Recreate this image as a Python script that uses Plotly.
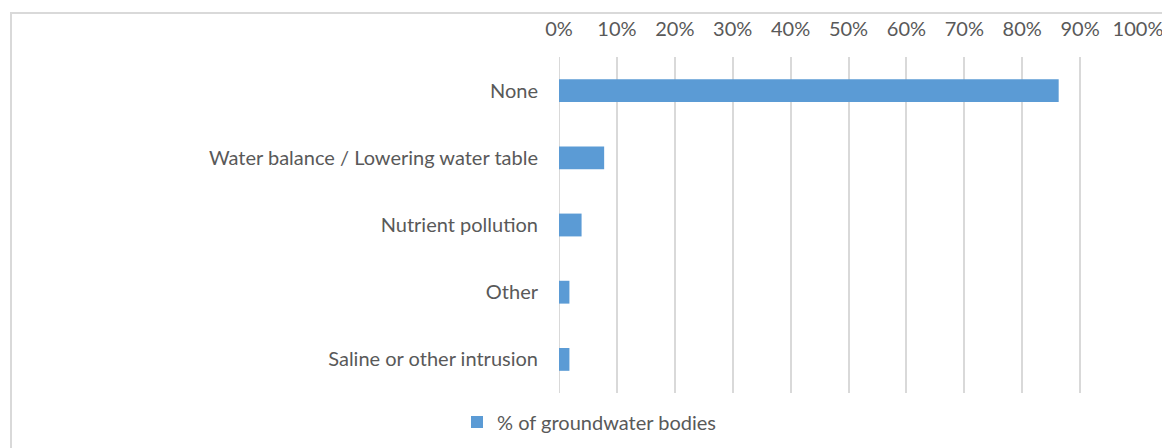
import plotly.graph_objects as go

categories = ["None", "Water balance / Lowering water table", "Nutrient pollution", "Other", "Saline or other intrusion"]
values = [0.863, 0.078, 0.039, 0.018, 0.018]
series_name = "% of groundwater bodies"
tick_vals = [i / 10 for i in range(11)]
tick_text = [f"{i*10}%" for i in range(11)]

OFF = 8  # default body margin of the html page
W, H = 1162, 440
L, R, T, B = 551, 32, 49, 55
pw = W - L - R
ph = H - T - B

def px_x(p):  # page pixel -> paper coord
    return (p - OFF - L) / pw

def px_y(p):
    return 1 - (p - OFF - T) / ph

fig = go.Figure()
fig.add_trace(go.Bar(
    y=categories, x=values, orientation="h", name=series_name,
    marker=dict(color="#5b9bd5", line=dict(width=0)), width=0.34,
    showlegend=True,
))

fig.update_layout(
    width=W, height=H,
    margin=dict(l=L, r=R, t=T, b=B, autoexpand=False),
    paper_bgcolor="white", plot_bgcolor="white",
    font=dict(family="Lato, Open Sans, sans-serif", size=20, color="#595959"),
    showlegend=True,
    legend=dict(orientation="h", x=px_x(457), xanchor="left", y=px_y(422), yanchor="middle",
                font=dict(size=20, color="#595959"), itemwidth=30, bgcolor="rgba(0,0,0,0)"),
)
fig.update_xaxes(
    side="top", range=[0, 1.0], tickvals=tick_vals, ticktext=tick_text,
    showgrid=True, gridcolor="#d9d9d9", gridwidth=2, zeroline=False,
    showline=False, ticks="", ticklabelstandoff=16, tickfont=dict(size=20, color="#595959"),
)
fig.update_yaxes(
    categoryorder="array", categoryarray=categories[::-1],
    showgrid=False, zeroline=False, showline=False, ticks="",
    ticklabelstandoff=20, tickfont=dict(size=20, color="#595959"),
)
fig.add_shape(type="line", xref="x", yref="paper", x0=0, x1=0, y0=0, y1=1,
              line=dict(color="#d9d9d9", width=2), layer="below")
fig.add_shape(type="rect", xref="paper", yref="paper",
              x0=px_x(11), x1=px_x(1200), y0=px_y(480), y1=px_y(13),
              line=dict(color="#d9d9d9", width=2), fillcolor="rgba(0,0,0,0)", layer="below")

fig.write_html("out.html")
